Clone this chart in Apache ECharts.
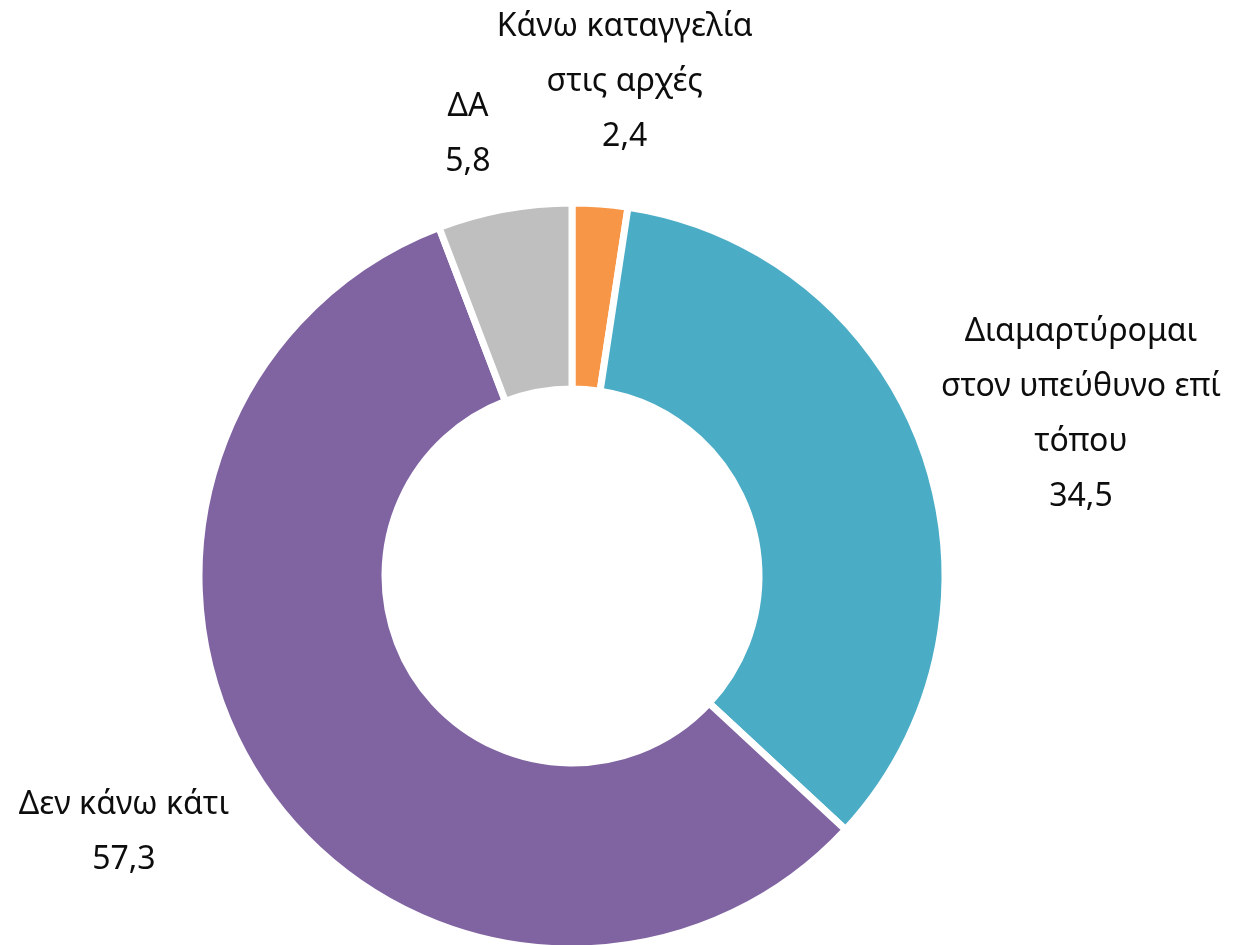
<!DOCTYPE html>
<html>
<head>
<meta charset="utf-8">
<script src="https://cdn.jsdelivr.net/npm/echarts@6/dist/echarts.min.js"></script>
<style>
html,body{margin:0;padding:0;background:#fff;}
#chart{width:1235px;height:945px;}
</style>
</head>
<body>
<div id="chart"></div>
<script>
// ---- data ----
const categories = [
  'Κάνω καταγγελία\nστις αρχές',
  'Διαμαρτύρομαι\nστον υπεύθυνο επί\nτόπου',
  'Δεν κάνω κάτι',
  'ΔΑ'
];
const values = [2.4, 34.5, 57.3, 5.8];

// ---- style / layout ----
const colors = ['#F79646', '#4BACC6', '#8064A2', '#BFBFBF'];
const cx = 572, cy = 576;
const rOuter = 373, rInner = 187;
const labelGap = 22;
const labelNudge = [[16, -9], [-23, 24], [-23, -31], [-22, 4]];

const total = values.reduce((a, b) => a + b, 0);
const midAngles = [];
let acc = 0;
values.forEach(v => { midAngles.push((acc + v / 2) / total * 2 * Math.PI); acc += v; });

const chart = echarts.init(document.getElementById('chart'), null, {renderer: 'canvas'});
chart.setOption({
  backgroundColor: '#ffffff',
  animation: false,
  series: [{
    type: 'pie',
    center: [cx, cy],
    radius: [rInner, rOuter],
    startAngle: 90,
    clockwise: true,
    avoidLabelOverlap: false,
    itemStyle: {borderColor: '#ffffff', borderWidth: 7},
    label: {
      show: true,
      position: 'outside',
      fontFamily: '"Noto Sans", "Open Sans", sans-serif',
      fontSize: 32,
      lineHeight: 55,
      color: '#0d0d0d',
      align: 'center',
      formatter: p => p.name + '\n' + p.value.toFixed(1).replace('.', ',')
    },
    labelLine: {show: false},
    labelLayout: function (params) {
      const i = params.dataIndex;
      const a = midAngles[i];
      const ux = Math.sin(a), uy = -Math.cos(a);
      const w = params.labelRect.width, h = params.labelRect.height;
      const half = Math.abs(ux) * w / 2 + Math.abs(uy) * h / 2;
      const d = rOuter + labelGap + half;
      return {
        x: cx + ux * d + labelNudge[i][0],
        y: cy + uy * d + labelNudge[i][1],
        align: 'center',
        verticalAlign: 'middle'
      };
    },
    data: categories.map((c, i) => ({name: c, value: values[i], itemStyle: {color: colors[i]}}))
  }]
});
</script>
</body>
</html>
